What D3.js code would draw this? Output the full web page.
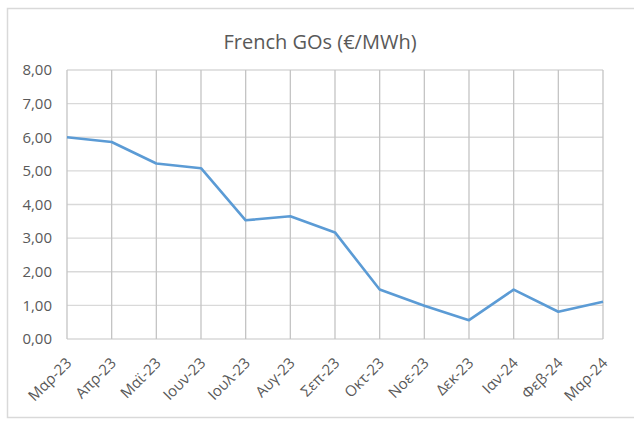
<!DOCTYPE html>
<html>
<head>
<meta charset="utf-8">
<script src="https://cdn.jsdelivr.net/npm/d3@7"></script>
<style>
  body { margin: 0; background: #fff; }
  text { font-family: "Open Sans", "Noto Sans", sans-serif; fill: #595959; }
</style>
</head>
<body>
<div id="chart"></div>
<script>
// Month labels (Greek abbreviations as in the source)
const months = ['Μαρ-23', 'Απρ-23', 'Μαϊ-23', 'Ιουν-23', 'Ιουλ-23', 'Αυγ-23', 'Σεπ-23',
                'Οκτ-23', 'Νοε-23', 'Δεκ-23', 'Ιαν-24', 'Φεβ-24', 'Μαρ-24'];
// French GOs price, €/MWh
const prices = [6.00, 5.86, 5.22, 5.08, 3.53, 3.65, 3.17, 1.47, 0.99, 0.56, 1.47, 0.81, 1.11];
const yTicks = [0, 1, 2, 3, 4, 5, 6, 7, 8];

const width = 634, height = 421;
const margin = {top: 70, right: 31, bottom: 82, left: 67};

const svg = d3.select('#chart').append('svg')
    .attr('width', width)
    .attr('height', height);

// chart frame
svg.append('rect')
    .attr('x', 7.5).attr('y', 8.5)
    .attr('width', 640).attr('height', 409)
    .attr('fill', 'none')
    .attr('stroke', '#d9d9d9')
    .attr('stroke-width', 1.5);

const x = d3.scalePoint()
    .domain(months)
    .range([margin.left, width - margin.right]);

const y = d3.scaleLinear()
    .domain([0, 8])
    .range([height - margin.bottom, margin.top]);

// horizontal gridlines
svg.append('g')
    .selectAll('line')
    .data(yTicks)
    .join('line')
    .attr('x1', margin.left).attr('x2', width - margin.right)
    .attr('y1', d => y(d)).attr('y2', d => y(d))
    .attr('stroke', '#d9d9d9')
    .attr('stroke-width', 1.3);

// vertical gridlines
svg.append('g')
    .selectAll('line')
    .data(months)
    .join('line')
    .attr('x1', d => x(d)).attr('x2', d => x(d))
    .attr('y1', y(0)).attr('y2', y(8))
    .attr('stroke', '#c4c4c4')
    .attr('stroke-width', 1.3);

// y axis labels
const yAxis = svg.append('g')
    .attr('transform', `translate(${margin.left},0)`)
    .call(d3.axisLeft(y).tickValues(yTicks).tickSize(0).tickPadding(15)
        .tickFormat(d => d3.format('.2f')(d).replace('.', ',')));
yAxis.select('.domain').remove();
yAxis.selectAll('text')
    .style('font-size', '15px')
    .style('font-family', '"Open Sans", "Noto Sans", sans-serif')
    .attr('fill', '#595959');

// x axis labels
const xAxis = svg.append('g')
    .attr('transform', `translate(0,${y(0)})`)
    .call(d3.axisBottom(x).tickSize(0).tickPadding(0));
xAxis.select('.domain').remove();
xAxis.selectAll('text')
    .style('font-size', '15px')
    .style('font-family', '"Open Sans", "Noto Sans", sans-serif')
    .attr('fill', '#595959')
    .attr('text-anchor', 'end')
    .attr('dy', null)
    .attr('y', null)
    .attr('transform', 'translate(5,25) rotate(-45)');

// line
const line = d3.line()
    .x((d, i) => x(months[i]))
    .y(d => y(d));

svg.append('path')
    .datum(prices)
    .attr('d', line)
    .attr('fill', 'none')
    .attr('stroke', '#5b9bd5')
    .attr('stroke-width', 2.6)
    .attr('stroke-linejoin', 'round');

// title
svg.append('text')
    .attr('x', 320)
    .attr('y', 49)
    .attr('text-anchor', 'middle')
    .style('font-size', '20px')
    .text('French GOs (€/MWh)');
</script>
</body>
</html>
